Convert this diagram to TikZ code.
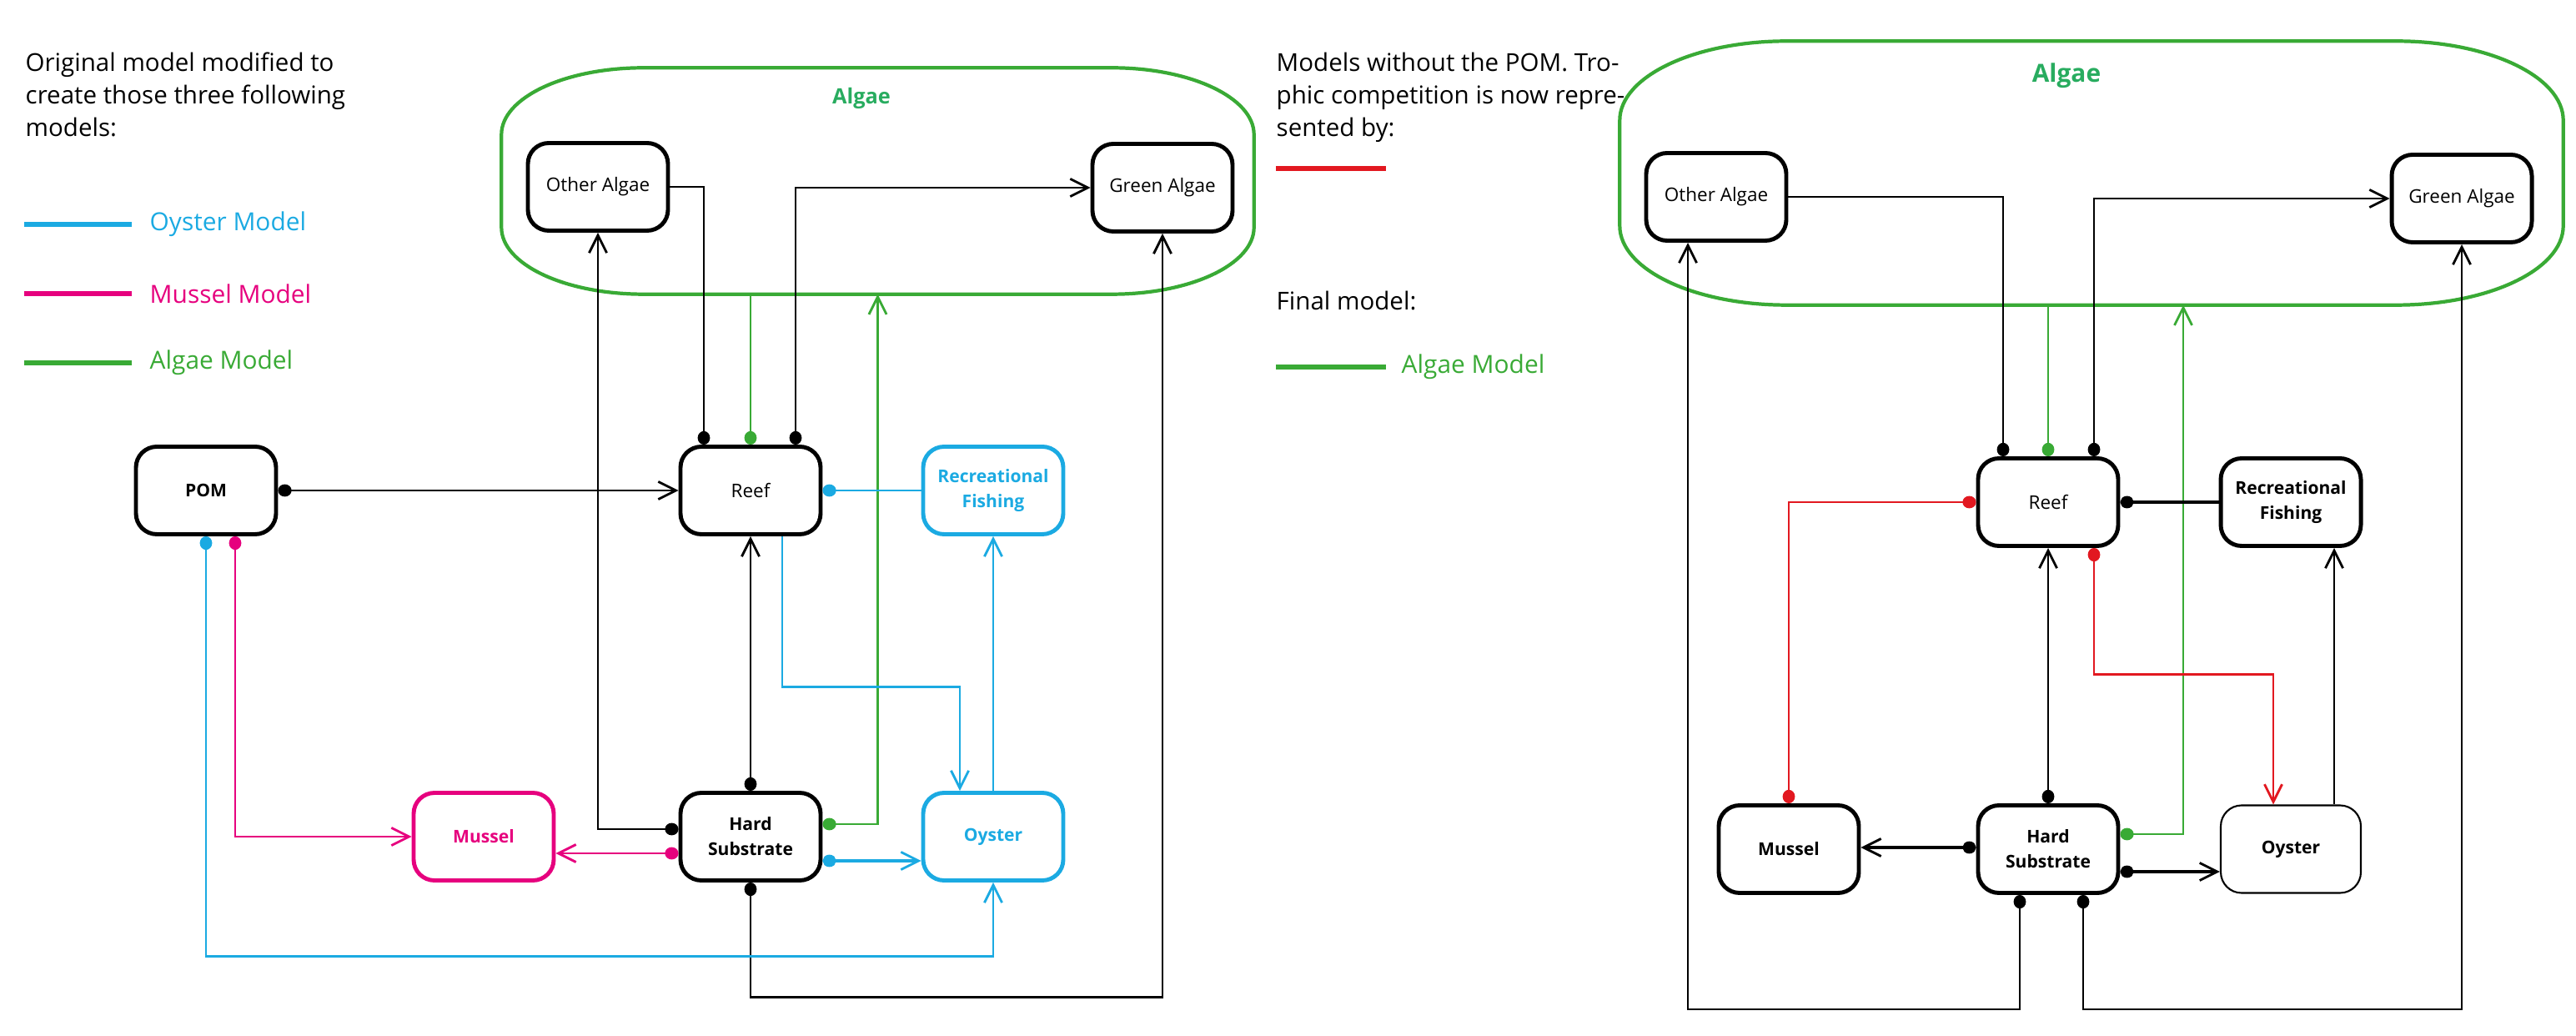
\documentclass[tikz,border=0pt]{standalone}
\usepackage{fontspec}
\setmainfont{Open Sans}
\usepackage{tikz}
\usetikzlibrary{calc,arrows.meta}
\definecolor{oysterC}{RGB}{27,170,226}
\definecolor{musselC}{RGB}{230,0,126}
\definecolor{algaeC}{RGB}{57,170,53}
\definecolor{titleC}{RGB}{40,172,95}
\definecolor{compC}{RGB}{226,24,32}
\def\algframe(#1)(#2:#3){\draw[algline] ([xshift=#2]#1.north west) -- ([xshift=-#2]#1.north east) arc[start angle=90,end angle=0,x radius=#2,y radius=#3] -- ([yshift=#3]#1.south east) arc[start angle=0,end angle=-90,x radius=#2,y radius=#3] -- ([xshift=#2]#1.south west) arc[start angle=270,end angle=180,x radius=#2,y radius=#3] -- ([yshift=-#3]#1.north west) arc[start angle=180,end angle=90,x radius=#2,y radius=#3] -- cycle;}
\tikzset{
	ball/.tip={Circle[length=4.6pt,width=4.2pt]},
	barb/.tip={Straight Barb[length=6pt,width=6pt,line width=0.8pt]},
	box/.style={draw, fill=white, line width=1.4pt, rounded corners=0.25cm, minimum width=1.68cm, minimum height=1.05cm, align=center, inner sep=1pt, font=\fontsize{6.4}{8.5}\selectfont},
	boxb/.style={box, font=\fontsize{6}{8.5}\selectfont\bfseries},
	note/.style={align=left, inner sep=0pt, font=\fontsize{8.4}{11.1}\selectfont},
	legtext/.style={anchor=west, inner sep=0pt, font=\fontsize{8.5}{10}\selectfont},
	legline/.style={line width=1.8pt},
	algline/.style={algaeC, line width=1.2pt},
	algtitle/.style={text=titleC, font=\fontsize{7.2}{9}\selectfont\bfseries},
	area/.style={minimum width=#1, inner sep=0pt}
}
\begin{document}
\begin{tikzpicture}
				%%%%% START %%%%%
				\useasboundingbox (0,0) rectangle (30.89,12.41);
				
				% left: original model
				\node[note, anchor=north west] (introL) at (0.30,11.79) {Original model modified to\\create those three following\\models:};
				\draw[legline, oysterC] (0.29,9.72) -- ++(1.29,0);
				\node[legtext, text=oysterC] (legOy) at (1.79,9.72) {Oyster Model};
				\draw[legline, musselC] (0.29,8.89) -- ++(1.29,0);
				\node[legtext, text=musselC] (legMu) at (1.79,8.89) {Mussel Model};
				\draw[legline, algaeC] (0.29,8.06) -- ++(1.29,0);
				\node[legtext, text=algaeC] (legAlL) at (1.79,8.06) {Algae Model};
				
				\node[area=9.01cm, minimum height=2.70cm] (algL) at (10.525,10.24) {};
				\algframe(algL)(1.7cm:0.8cm)
				\node[algtitle] (algLt) at (10.33,11.23) {Algae};
				
				\node[box] (oaL) at (7.17,10.17) {Other Algae};
				\node[box] (gaL) at (13.94,10.16) {Green Algae};
				\node[boxb] (pomL) at (2.47,6.53) {POM};
				\node[box] (reefL) at (9.00,6.53) {Reef};
				\node[boxb, draw=oysterC, text=oysterC] (rfL) at (11.91,6.53) {Recreational\\Fishing};
				\node[boxb, draw=musselC, text=musselC] (musL) at (5.80,2.38) {Mussel};
				\node[boxb] (hsL) at (9.00,2.38) {Hard\\Substrate};
				\node[boxb, draw=oysterC, text=oysterC] (oyL) at (11.91,2.38) {Oyster};
				
				\draw[semithick, ball-barb] (pomL.east) -- (reefL.west);
				\draw[semithick, ball-] ([xshift=-0.56cm]reefL.north) |- (oaL.east);
				\draw[semithick, ball-barb] ([xshift=0.54cm]reefL.north) |- (gaL.west);
				\draw[algaeC, semithick, ball-] (reefL.north) -- (reefL.north |- algL.south);
				\draw[algaeC, semithick, ball-barb] ([yshift=0.15cm]hsL.east) -| (algL.south);
				\draw[semithick, ball-barb] ([yshift=0.09cm]hsL.west) -| (oaL.south);
				\draw[semithick, ball-barb] (hsL.north) -- (reefL.south);
				\draw[semithick, ball-barb] (hsL.south) -- ++(0,-1.375) -| (gaL.south);
				\draw[musselC, semithick, ball-barb] ([xshift=0.35cm]pomL.south) |- (musL.west);
				\draw[musselC, thick, ball-barb] ([yshift=-0.2cm]hsL.west) -- ([yshift=-0.2cm]musL.east);
				\draw[oysterC, semithick, ball-barb] (pomL.south) -- ++(0,-5.035) -| (oyL.south);
				\draw[oysterC, very thick, ball-barb] ([yshift=-0.29cm]hsL.east) -- ([yshift=-0.29cm]oyL.west);
				\draw[oysterC, semithick, -barb] ([xshift=0.38cm]reefL.south) -- ++(0,-1.805) -| ([xshift=-0.4cm]oyL.north);
				\draw[oysterC, semithick, -barb] (oyL.north) -- (rfL.south);
				\draw[oysterC, thick, ball-] (reefL.east) -- (rfL.west);
				
				% right: models without the POM
				\node[note, anchor=north west] (introR) at (15.30,11.79) {Models without the POM. Tro-\\phic competition is now repre-\\sented by:};
				\draw[legline, compC] (15.30,10.39) -- ++(1.32,0);
				\node[note, anchor=west] (finalR) at (15.30,8.80) {Final model:};
				\draw[legline, algaeC] (15.30,8.01) -- ++(1.32,0);
				\node[legtext, text=algaeC] (legAlR) at (16.80,8.01) {Algae Model};
				
				\node[area=11.30cm, minimum height=3.15cm] (algR) at (25.08,10.335) {};
				\algframe(algR)(2.0cm:0.95cm)
				\node[algtitle, font=\fontsize{8.5}{10}\selectfont\bfseries] (algRt) at (24.78,11.50) {Algae};
				
				\node[box] (oaR) at (20.58,10.05) {Other Algae};
				\node[box] (gaR) at (29.52,10.03) {Green Algae};
				\node[box] (reefR) at (24.56,6.39) {Reef};
				\node[boxb] (rfR) at (27.47,6.39) {Recreational\\Fishing};
				\node[boxb] (musR) at (21.45,2.23) {Mussel};
				\node[boxb] (hsR) at (24.56,2.23) {Hard\\Substrate};
				\node[boxb, line width=0.6pt] (oyR) at (27.47,2.23) {Oyster};
				
				\draw[semithick, ball-] ([xshift=-0.54cm]reefR.north) |- (oaR.east);
				\draw[semithick, ball-barb] ([xshift=0.55cm]reefR.north) |- (gaR.west);
				\draw[algaeC, semithick, ball-] (reefR.north) -- (reefR.north |- algR.south);
				\draw[algaeC, semithick, ball-barb] ([yshift=0.18cm]hsR.east) -| ([xshift=1.1cm]algR.south);
				\draw[very thick, ball-] (reefR.east) -- (rfR.west);
				\draw[compC, semithick, ball-ball] (reefR.west) -| (musR.north);
				\draw[compC, semithick, ball-barb] ([xshift=0.55cm]reefR.south) -- ++(0,-1.515) -| ([xshift=-0.21cm]oyR.north);
				\draw[semithick, ball-barb] (hsR.north) -- (reefR.south);
				\draw[very thick, ball-barb] ([yshift=0.02cm]hsR.west) -- ([yshift=0.02cm]musR.east);
				\draw[very thick, ball-barb] ([yshift=-0.27cm]hsR.east) -- ([yshift=-0.27cm]oyR.west);
				\draw[semithick, -barb] ([xshift=0.52cm]oyR.north) -- ([xshift=0.52cm]rfR.south);
				\draw[semithick, ball-barb] ([xshift=-0.34cm]hsR.south) -- ++(0,-1.37) -| ([xshift=-0.34cm]oaR.south);
				\draw[semithick, ball-barb] ([xshift=0.42cm]hsR.south) -- ++(0,-1.37) -| (gaR.south);
				%%%%% END %%%%%
\end{tikzpicture}
\end{document}
